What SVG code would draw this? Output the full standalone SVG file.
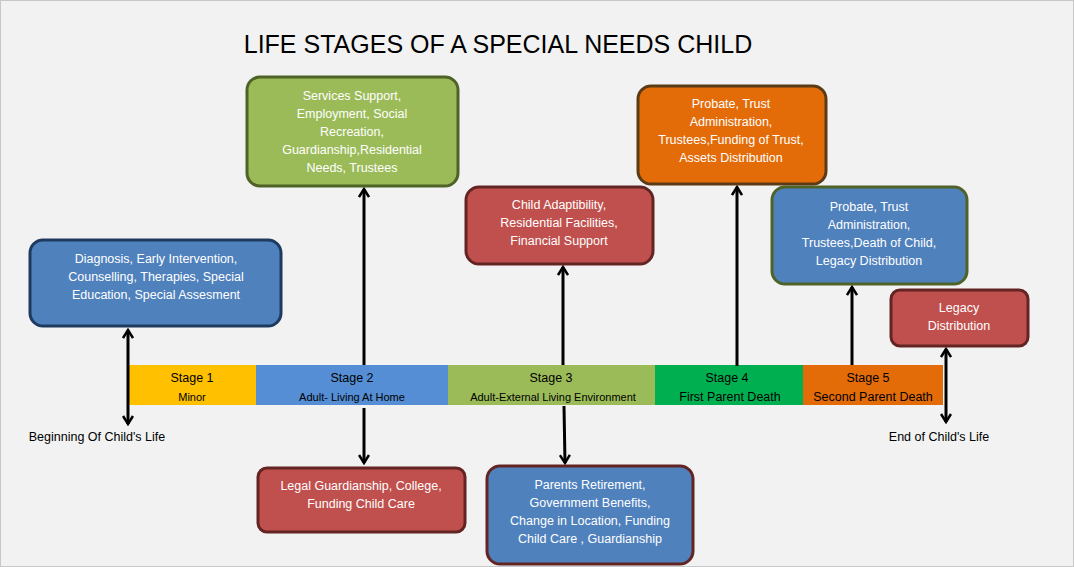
<svg xmlns="http://www.w3.org/2000/svg" width="1074" height="567" viewBox="0 0 1074 567">
<defs>
<style>
.b{stroke-width:3}
.w{font-family:"Liberation Sans",Arial,sans-serif;font-size:12.5px;fill:#fff;text-anchor:middle}
.k{font-family:"Liberation Sans",Arial,sans-serif;font-size:12.5px;fill:#000;text-anchor:middle}
.s{font-size:11px}
.c{stroke:#000;stroke-width:3;fill:none}
</style>
<marker id="a" viewBox="0 0 12 12" refX="10" refY="6" markerWidth="4" markerHeight="4" orient="auto-start-reverse" markerUnits="strokeWidth"><path d="M2,1 L10,6 L2,11" fill="none" stroke="#000" stroke-width="2.5"/></marker>
</defs>
<rect x="0.5" y="0.5" width="1073" height="566" fill="#f2f2f2" stroke="#c8c8c8"/>
<text x="498" y="53" font-family="Liberation Sans,Arial,sans-serif" font-size="25" text-anchor="middle" fill="#000">LIFE STAGES OF A SPECIAL NEEDS CHILD</text>
<g id="timeline">
<rect x="128" y="365" width="128" height="40" fill="#ffc000"/>
<rect x="256" y="365" width="192" height="40" fill="#558ed5"/>
<rect x="448" y="365" width="207" height="40" fill="#9bbb59"/>
<rect x="655" y="365" width="148" height="40" fill="#00b050"/>
<rect x="803" y="365" width="140" height="40" fill="#e36c09"/>
<text class="k" x="192" y="382">Stage 1</text><text class="k s" x="192" y="401">Minor</text>
<text class="k" x="352" y="382">Stage 2</text><text class="k s" x="352" y="401">Adult- Living At Home</text>
<text class="k" x="551" y="382">Stage 3</text><text class="k s" x="553" y="401">Adult-External Living Environment</text>
<text class="k" x="727" y="382">Stage 4</text><text class="k" x="730" y="401">First  Parent Death</text>
<text class="k" x="868" y="382">Stage 5</text><text class="k" x="873" y="401">Second Parent Death</text>
<text class="k" x="97" y="441">Beginning Of Child's Life</text>
<text class="k" x="939" y="441">End of Child's Life</text>
</g>
<g id="connectors">
<line class="c" x1="128" y1="424" x2="128" y2="330" marker-start="url(#a)" marker-end="url(#a)"/>
<line class="c" x1="946" y1="422" x2="946" y2="349" marker-start="url(#a)" marker-end="url(#a)"/>
<line class="c" x1="364" y1="365" x2="364" y2="189" marker-end="url(#a)"/>
<line class="c" x1="364" y1="408" x2="364" y2="463" marker-end="url(#a)"/>
<line class="c" x1="563" y1="365" x2="563" y2="267" marker-end="url(#a)"/>
<line class="c" x1="564" y1="406" x2="565" y2="463" marker-end="url(#a)"/>
<line class="c" x1="737" y1="366" x2="737" y2="187" marker-end="url(#a)"/>
<line class="c" x1="852" y1="365" x2="852" y2="287" marker-end="url(#a)"/>
</g>
<g id="n1"><rect class="b" x="30" y="240" width="251" height="86" rx="13" fill="#4f81bd" stroke="#1f3a5f"/>
<text class="w" x="156" y="263">Diagnosis, Early Intervention,</text><text class="w" x="156" y="281">Counselling, Therapies, Special</text><text class="w" x="156" y="299">Education, Special Assesment</text></g>
<g id="n2"><rect class="b" x="247" y="77" width="211" height="109" rx="13" fill="#9bbb59" stroke="#4f6228"/>
<text class="w" x="352" y="100">Services Support,</text><text class="w" x="352" y="118">Employment, Social</text><text class="w" x="352" y="136">Recreation,</text><text class="w" x="352" y="154">Guardianship,Residential</text><text class="w" x="352" y="172">Needs, Trustees</text></g>
<g id="n3"><rect class="b" x="466" y="187" width="187" height="77" rx="13" fill="#c0504d" stroke="#632523"/>
<text class="w" x="559" y="209">Child Adaptibility,</text><text class="w" x="559" y="227">Residential Facilities,</text><text class="w" x="559" y="245">Financial Support</text></g>
<g id="n4"><rect class="b" x="638" y="86" width="188" height="98" rx="13" fill="#e36c09" stroke="#5a3b16"/>
<text class="w" x="731" y="108">Probate, Trust</text><text class="w" x="731" y="126">Administration,</text><text class="w" x="731" y="144">Trustees,Funding of Trust,</text><text class="w" x="731" y="162">Assets Distribution</text></g>
<g id="n5"><rect class="b" x="772" y="187" width="195" height="97" rx="13" fill="#4f81bd" stroke="#4f6228"/>
<text class="w" x="869" y="211">Probate, Trust</text><text class="w" x="869" y="229">Administration,</text><text class="w" x="869" y="247">Trustees,Death of Child,</text><text class="w" x="869" y="265">Legacy Distribution</text></g>
<g id="n6"><rect class="b" x="891" y="290" width="137" height="56" rx="9" fill="#c0504d" stroke="#632523"/>
<text class="w" x="959" y="312">Legacy</text><text class="w" x="959" y="330">Distribution</text></g>
<g id="n7"><rect class="b" x="258" y="468" width="207" height="64" rx="9" fill="#c0504d" stroke="#632523"/>
<text class="w" x="361" y="490">Legal Guardianship, College,</text><text class="w" x="361" y="508">Funding Child Care</text></g>
<g id="n8"><rect class="b" x="487" y="466" width="206" height="98" rx="13" fill="#4f81bd" stroke="#632523"/>
<text class="w" x="590" y="489">Parents Retirement,</text><text class="w" x="590" y="507">Government Benefits,</text><text class="w" x="590" y="525">Change in Location, Funding</text><text class="w" x="590" y="543">Child Care , Guardianship</text></g>
</svg>
